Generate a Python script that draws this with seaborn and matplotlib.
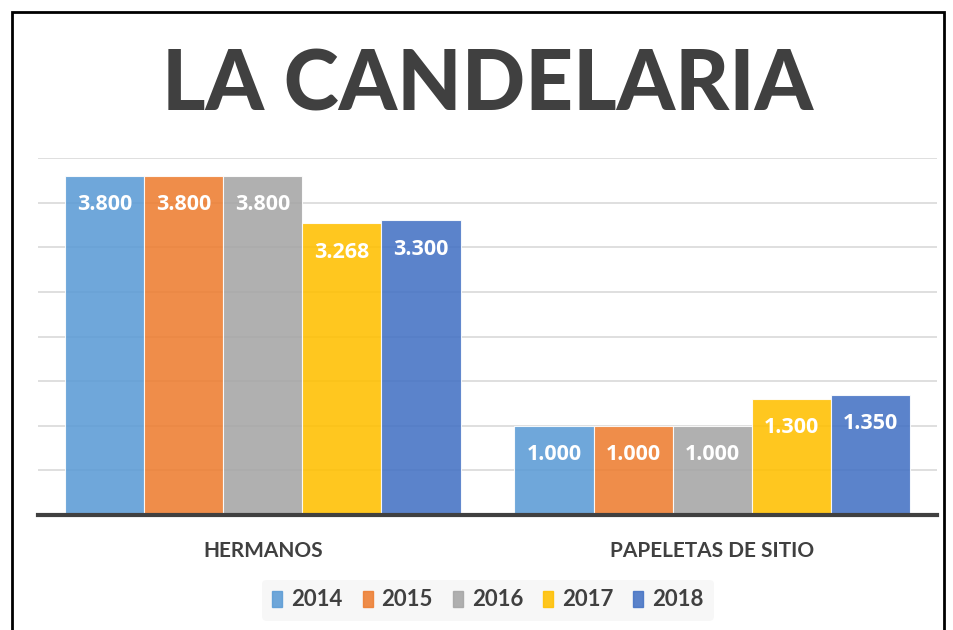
import matplotlib
matplotlib.use("Agg")
import matplotlib.pyplot as plt
import matplotlib.patches as mpatches
import pandas as pd
import seaborn as sns

# ===================== Data =====================
categories = ["HERMANOS", "PAPELETAS DE SITIO"]
years = ["2014", "2015", "2016", "2017", "2018"]
hermanos = [3800, 3800, 3800, 3268, 3300]
papeletas = [1000, 1000, 1000, 1300, 1350]
colors = ["#5B9BD5", "#ED7D31", "#A5A5A5", "#FFC000", "#4472C4"]

rows = []
for cat, vals in zip(categories, [hermanos, papeletas]):
    for yr, v in zip(years, vals):
        rows.append({"categoria": cat, "anio": yr, "valor": v})
df = pd.DataFrame(rows)

# ===================== Style =====================
sns.set_theme(style="white")
plt.rcParams["font.family"] = ["Lato", "DejaVu Sans"]
TXT = "#404040"

fig = plt.figure(figsize=(9.54, 6.3), dpi=100)
ax = fig.add_axes([38 / 954, 1 - 515 / 630, (937 - 38) / 954, (515 - 158) / 630])

sns.barplot(data=df, x="categoria", y="valor", hue="anio", order=categories,
            hue_order=years, palette=colors, width=0.88, gap=0, saturation=1,
            alpha=0.88, edgecolor="white", linewidth=0.8, ax=ax, zorder=2,
            legend=False)

ax.set_ylim(0, 4000)
ax.set_xlim(-0.5, 1.5)
ax.set_yticks(range(0, 4001, 500))
ax.set_yticklabels([])
ax.yaxis.grid(True, color="#d9d9d9", linewidth=1.2, zorder=0)
ax.set_axisbelow(True)
for s in ["top", "right", "left"]:
    ax.spines[s].set_visible(False)
ax.spines["bottom"].set_color(TXT)
ax.spines["bottom"].set_linewidth(3)
ax.spines["bottom"].set_zorder(5)
ax.set_xlabel("")
ax.set_ylabel("")
ax.tick_params(axis="x", length=0, pad=19, labelsize=15, labelcolor=TXT)
ax.tick_params(axis="y", length=0)
for lbl in ax.get_xticklabels():
    lbl.set_fontweight("bold")

# data labels
for cont in ax.containers:
    for bar in cont:
        h = bar.get_height()
        ax.annotate(f"{h:,.0f}".replace(",", "."),
                    (bar.get_x() + bar.get_width() / 2, h),
                    xytext=(0, -29), textcoords="offset pixels",
                    ha="center", va="center", color="white",
                    fontsize=15.5, fontweight="bold",
                    family=["Open Sans", "DejaVu Sans"], zorder=6)

# legend
handles = [mpatches.Patch(color=c, alpha=0.88) for c in colors]
leg = fig.legend(handles, years, loc="center", bbox_to_anchor=(488 / 954, 1 - 600 / 630),
                 ncol=5, frameon=True, fontsize=16, handlelength=0.45, handleheight=0.7,
                 handletextpad=0.4, columnspacing=0.9, borderpad=0.45, borderaxespad=0)
leg.get_frame().set_facecolor("#f5f5f5")
leg.get_frame().set_edgecolor("none")
for t in leg.get_texts():
    t.set_fontweight("bold")
    t.set_color(TXT)

# title
fig.text(488 / 954, 1 - 86 / 630, "LA CANDELARIA", ha="center", va="center",
         fontsize=60, fontweight="black", color=TXT)

# chart frame
fig.patches.append(mpatches.Rectangle((12 / 954, -0.2), (944 - 12) / 954, 1.2 - 12 / 630,
                                      transform=fig.transFigure, fill=False,
                                      edgecolor="black", linewidth=2))

fig.savefig("out.png", dpi=100)
